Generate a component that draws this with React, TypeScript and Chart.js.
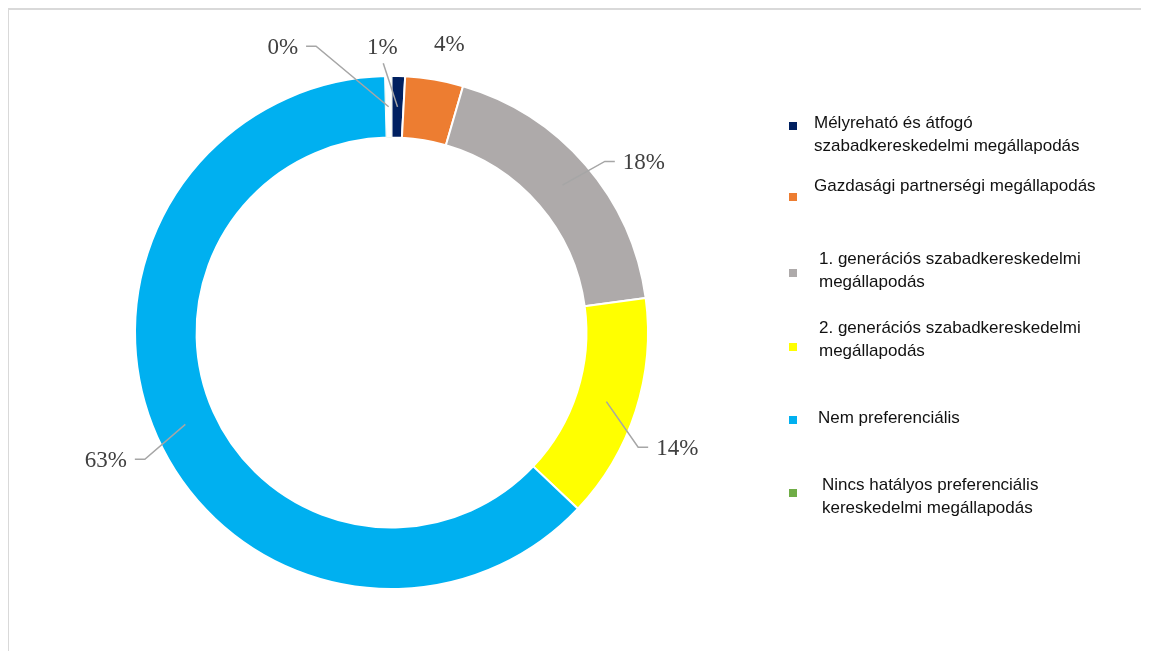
import React, { useEffect, useRef } from "react";
import { Chart, registerables } from "chart.js";

Chart.register(...registerables);

const categories: string[][] = [
  ["Mélyreható és átfogó", "szabadkereskedelmi megállapodás"],
  ["Gazdasági partnerségi megállapodás"],
  ["1. generációs szabadkereskedelmi", "megállapodás"],
  ["2. generációs szabadkereskedelmi", "megállapodás"],
  ["Nem preferenciális"],
  ["Nincs hatályos preferenciális", "kereskedelmi megállapodás"],
];
const shares: number[] = [0.85, 3.65, 18.35, 14.2, 62.55, 0.4];
const colors: string[] = ["#002060", "#ED7D31", "#AEAAAA", "#FFFF00", "#00B0F0", "#70AD47"];

// label placement relative to chart centre, in units of outer radius
const labelPlacement = [
  { dx: -0.036, dy: -1.116, leader: "below" },
  { dx: 0.225, dy: -1.129, leader: "none" },
  { dx: 0.984, dy: -0.667, leader: "left" },
  { dx: 1.114, dy: 0.447, leader: "left" },
  { dx: -1.114, dy: 0.494, leader: "right" },
  { dx: -0.424, dy: -1.116, leader: "right" },
];

// legend layout (canvas coords)
const legendLayout = [
  { mx: 785, my: 118, tx: 806, ty: [115, 138] },
  { mx: 785, my: 189, tx: 806, ty: [178] },
  { mx: 785, my: 265, tx: 811, ty: [251, 274] },
  { mx: 785, my: 339, tx: 811, ty: [320, 343] },
  { mx: 785, my: 412, tx: 810, ty: [410] },
  { mx: 785, my: 485, tx: 814, ty: [477, 500] },
];

const overlayPlugin = {
  id: "overlay",
  afterDraw(chart: any) {
    const ctx = chart.ctx as CanvasRenderingContext2D;
    const w = chart.width;
    const h = chart.height;
    ctx.save();
    // frame
    ctx.strokeStyle = "#D9D9D9";
    ctx.lineWidth = 2;
    ctx.beginPath();
    ctx.moveTo(0, h);
    ctx.lineTo(0, 1);
    ctx.lineTo(w, 1);
    ctx.stroke();

    const meta = chart.getDatasetMeta(0);
    const total = shares.reduce((a, b) => a + b, 0);
    meta.data.forEach((arc: any, i: number) => {
      const p = arc.getProps(["x", "y", "startAngle", "endAngle", "innerRadius", "outerRadius"], true);
      const mid = (p.startAngle + p.endAngle) / 2;
      const mr = (p.innerRadius + p.outerRadius) / 2;
      const ax = p.x + Math.cos(mid) * mr;
      const ay = p.y + Math.sin(mid) * mr;
      const pl = labelPlacement[i];
      const tx = p.x + pl.dx * p.outerRadius;
      const ty = p.y + pl.dy * p.outerRadius;
      const text = Math.round((shares[i] / total) * 100) + "%";
      ctx.font = "23px 'Liberation Serif', 'Times New Roman', serif";
      const tw = ctx.measureText(text).width;
      ctx.strokeStyle = "#A6A6A6";
      ctx.lineWidth = 1.5;
      if (pl.leader === "below") {
        ctx.beginPath();
        ctx.moveTo(tx + 1, ty + 17);
        ctx.lineTo(ax, ay);
        ctx.stroke();
      } else if (pl.leader === "left") {
        const sx = tx - tw / 2 - 8;
        ctx.beginPath();
        ctx.moveTo(sx, ty);
        ctx.lineTo(sx - 10, ty);
        ctx.lineTo(ax, ay);
        ctx.stroke();
      } else if (pl.leader === "right") {
        const sx = tx + tw / 2 + 8;
        ctx.beginPath();
        ctx.moveTo(sx, ty);
        ctx.lineTo(sx + 10, ty);
        ctx.lineTo(ax, ay);
        ctx.stroke();
      }
      ctx.fillStyle = "#404040";
      ctx.textAlign = "center";
      ctx.textBaseline = "middle";
      ctx.fillText(text, tx, ty + 2);
    });

    // legend
    ctx.font = "17px 'Liberation Sans', Arial, sans-serif";
    ctx.textAlign = "left";
    ctx.textBaseline = "middle";
    categories.forEach((lines, i) => {
      const L = legendLayout[i];
      ctx.fillStyle = colors[i];
      ctx.fillRect(L.mx - 4, L.my - 4, 8, 8);
      ctx.fillStyle = "#111111";
      lines.forEach((line, j) => {
        ctx.fillText(line, L.tx, L.ty[j]);
      });
    });
    ctx.restore();
  },
};

export default function App() {
  const ref = useRef<HTMLCanvasElement | null>(null);
  useEffect(() => {
    if (!ref.current) return;
    const chart = new Chart(ref.current, {
      type: "doughnut",
      data: {
        labels: categories.map((l) => l.join(" ")),
        datasets: [
          {
            data: shares,
            backgroundColor: colors,
            borderColor: "#FFFFFF",
            borderWidth: [2, 2, 2, 2, 2, 8],
            borderAlign: ["center", "center", "center", "center", "center", "inner"],
          },
        ],
      },
      options: {
        responsive: true,
        maintainAspectRatio: false,
        animation: false,
        cutout: "76%",
        layout: { padding: { left: 126, top: 67, right: 500, bottom: 61 } },
        plugins: {
          legend: { display: false },
          tooltip: { enabled: false },
        },
      },
      plugins: [overlayPlugin],
    });
    return () => chart.destroy();
  }, []);
  return (
    <div style={{ width: 1141, height: 643, position: "relative" }}>
      <canvas ref={ref} />
    </div>
  );
}
